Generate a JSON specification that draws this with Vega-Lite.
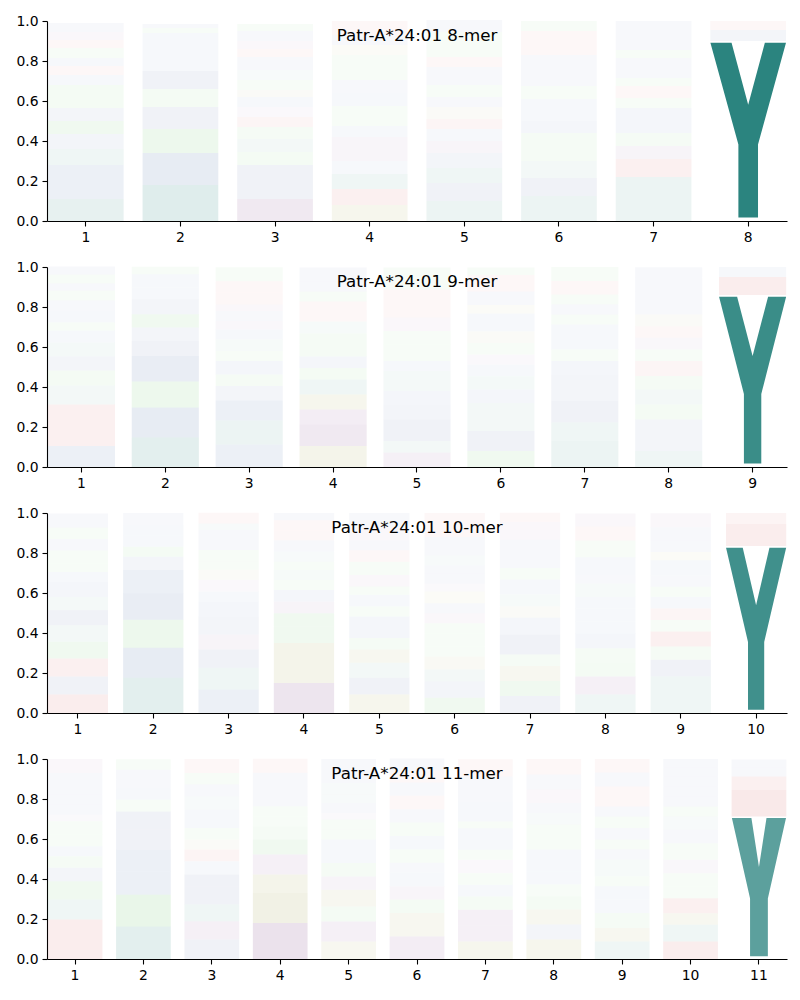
{
"$schema": "https://vega.github.io/schema/vega-lite/v6.json",
"background": "white",
"padding": {"left": 15, "top": 14, "right": 5, "bottom": 5},
"spacing": 46,
"bounds": "flush",
"config": {
  "view": {"stroke": null},
  "font": "DejaVu Sans",
  "axis": {"domainColor": "black", "domainWidth": 1.1, "tickColor": "black", "tickWidth": 1.1, "tickSize": 5, "labelColor": "black", "labelFontSize": 13.9, "labelFont": "DejaVu Sans", "grid": false, "title": null},
  "axisX": {"labelPadding": 4, "labelAngle": 0},
  "axisY": {"labelPadding": 4, "values": [0, 0.2, 0.4, 0.6, 0.8, 1.0], "format": ".1f"},
  "title": {"font": "DejaVu Sans", "fontSize": 16.7, "fontWeight": "normal", "color": "black", "anchor": "middle", "offset": -31}
},
"datasets": {
"m8": [
{"pos":1,"aa":"Y","p":0.11,"w":0.15},{"pos":1,"aa":"F","p":0.09,"w":0.12},{"pos":1,"aa":"M","p":0.08,"w":0.12},{"pos":1,"aa":"H","p":0.08,"w":0.1},{"pos":1,"aa":"I","p":0.075,"w":0.08},{"pos":1,"aa":"T","p":0.065,"w":0.1},{"pos":1,"aa":"V","p":0.065,"w":0.08},{"pos":1,"aa":"S","p":0.04,"w":0.08},{"pos":1,"aa":"Q","p":0.075,"w":0.08},{"pos":1,"aa":"A","p":0.05,"w":0.06},{"pos":1,"aa":"R","p":0.045,"w":0.06},{"pos":1,"aa":"L","p":0.04,"w":0.06},{"pos":1,"aa":"N","p":0.05,"w":0.06},{"pos":1,"aa":"K","p":0.04,"w":0.05},{"pos":1,"aa":"E","p":0.04,"w":0.05},{"pos":1,"aa":"W","p":0.045,"w":0.05},
{"pos":2,"aa":"Y","p":0.18,"w":0.2},{"pos":2,"aa":"F","p":0.16,"w":0.15},{"pos":2,"aa":"T","p":0.12,"w":0.12},{"pos":2,"aa":"W","p":0.11,"w":0.1},{"pos":2,"aa":"S","p":0.09,"w":0.08},{"pos":2,"aa":"M","p":0.09,"w":0.1},{"pos":2,"aa":"V","p":0.05,"w":0.06},{"pos":2,"aa":"I","p":0.05,"w":0.06},{"pos":2,"aa":"A","p":0.09,"w":0.06},{"pos":2,"aa":"Q","p":0.025,"w":0.05},{"pos":2,"aa":"L","p":0.02,"w":0.05},
{"pos":3,"aa":"D","p":0.11,"w":0.15},{"pos":3,"aa":"W","p":0.09,"w":0.1},{"pos":3,"aa":"F","p":0.08,"w":0.1},{"pos":3,"aa":"N","p":0.065,"w":0.08},{"pos":3,"aa":"Y","p":0.065,"w":0.08},{"pos":3,"aa":"Q","p":0.06,"w":0.07},{"pos":3,"aa":"R","p":0.05,"w":0.07},{"pos":3,"aa":"C","p":0.05,"w":0.06},{"pos":3,"aa":"A","p":0.05,"w":0.06},{"pos":3,"aa":"G","p":0.035,"w":0.06},{"pos":3,"aa":"S","p":0.05,"w":0.06},{"pos":3,"aa":"H","p":0.05,"w":0.05},{"pos":3,"aa":"L","p":0.065,"w":0.05},{"pos":3,"aa":"K","p":0.04,"w":0.05},{"pos":3,"aa":"E","p":0.04,"w":0.05},{"pos":3,"aa":"V","p":0.05,"w":0.05},{"pos":3,"aa":"T","p":0.035,"w":0.05},
{"pos":4,"aa":"P","p":0.08,"w":0.12},{"pos":4,"aa":"K","p":0.08,"w":0.1},{"pos":4,"aa":"H","p":0.075,"w":0.1},{"pos":4,"aa":"V","p":0.065,"w":0.06},{"pos":4,"aa":"E","p":0.06,"w":0.07},{"pos":4,"aa":"D","p":0.06,"w":0.07},{"pos":4,"aa":"I","p":0.055,"w":0.06},{"pos":4,"aa":"Q","p":0.06,"w":0.06},{"pos":4,"aa":"T","p":0.04,"w":0.05},{"pos":4,"aa":"W","p":0.065,"w":0.06},{"pos":4,"aa":"L","p":0.065,"w":0.05},{"pos":4,"aa":"S","p":0.06,"w":0.05},{"pos":4,"aa":"N","p":0.065,"w":0.05},{"pos":4,"aa":"G","p":0.05,"w":0.05},{"pos":4,"aa":"A","p":0.05,"w":0.05},{"pos":4,"aa":"R","p":0.07,"w":0.05},
{"pos":5,"aa":"H","p":0.1,"w":0.12},{"pos":5,"aa":"F","p":0.09,"w":0.1},{"pos":5,"aa":"Y","p":0.075,"w":0.1},{"pos":5,"aa":"W","p":0.075,"w":0.08},{"pos":5,"aa":"C","p":0.06,"w":0.08},{"pos":5,"aa":"V","p":0.06,"w":0.06},{"pos":5,"aa":"R","p":0.05,"w":0.07},{"pos":5,"aa":"G","p":0.06,"w":0.06},{"pos":5,"aa":"I","p":0.05,"w":0.05},{"pos":5,"aa":"T","p":0.06,"w":0.05},{"pos":5,"aa":"L","p":0.05,"w":0.05},{"pos":5,"aa":"A","p":0.04,"w":0.05},{"pos":5,"aa":"K","p":0.05,"w":0.05},{"pos":5,"aa":"S","p":0.065,"w":0.05},{"pos":5,"aa":"Q","p":0.06,"w":0.05},{"pos":5,"aa":"M","p":0.06,"w":0.05},
{"pos":6,"aa":"H","p":0.125,"w":0.12},{"pos":6,"aa":"F","p":0.09,"w":0.1},{"pos":6,"aa":"Y","p":0.085,"w":0.08},{"pos":6,"aa":"Q","p":0.065,"w":0.07},{"pos":6,"aa":"T","p":0.075,"w":0.07},{"pos":6,"aa":"I","p":0.06,"w":0.07},{"pos":6,"aa":"W","p":0.11,"w":0.06},{"pos":6,"aa":"N","p":0.065,"w":0.05},{"pos":6,"aa":"L","p":0.04,"w":0.05},{"pos":6,"aa":"A","p":0.065,"w":0.05},{"pos":6,"aa":"V","p":0.05,"w":0.05},{"pos":6,"aa":"R","p":0.06,"w":0.05},{"pos":6,"aa":"K","p":0.06,"w":0.05},{"pos":6,"aa":"S","p":0.05,"w":0.05},
{"pos":7,"aa":"Y","p":0.11,"w":0.12},{"pos":7,"aa":"H","p":0.11,"w":0.12},{"pos":7,"aa":"K","p":0.09,"w":0.1},{"pos":7,"aa":"E","p":0.065,"w":0.08},{"pos":7,"aa":"Q","p":0.065,"w":0.07},{"pos":7,"aa":"L","p":0.065,"w":0.07},{"pos":7,"aa":"F","p":0.06,"w":0.07},{"pos":7,"aa":"T","p":0.05,"w":0.06},{"pos":7,"aa":"R","p":0.06,"w":0.06},{"pos":7,"aa":"S","p":0.04,"w":0.05},{"pos":7,"aa":"A","p":0.05,"w":0.05},{"pos":7,"aa":"V","p":0.05,"w":0.05},{"pos":7,"aa":"N","p":0.04,"w":0.05},{"pos":7,"aa":"W","p":0.06,"w":0.05},{"pos":7,"aa":"M","p":0.085,"w":0.05},
{"pos":8,"aa":"Y","p":0.9,"w":1.0},{"pos":8,"aa":"F","p":0.055,"w":0.08},{"pos":8,"aa":"R","p":0.045,"w":0.06}
],
"m9": [
{"pos":1,"aa":"M","p":0.105,"w":0.12},{"pos":1,"aa":"R","p":0.11,"w":0.1},{"pos":1,"aa":"K","p":0.097,"w":0.1},{"pos":1,"aa":"Y","p":0.095,"w":0.08},{"pos":1,"aa":"S","p":0.075,"w":0.08},{"pos":1,"aa":"F","p":0.07,"w":0.08},{"pos":1,"aa":"H","p":0.07,"w":0.07},{"pos":1,"aa":"V","p":0.06,"w":0.06},{"pos":1,"aa":"T","p":0.04,"w":0.06},{"pos":1,"aa":"A","p":0.06,"w":0.06},{"pos":1,"aa":"I","p":0.05,"w":0.05},{"pos":1,"aa":"Q","p":0.05,"w":0.05},{"pos":1,"aa":"L","p":0.035,"w":0.05},{"pos":1,"aa":"N","p":0.045,"w":0.05},{"pos":1,"aa":"W","p":0.04,"w":0.05},
{"pos":2,"aa":"Y","p":0.147,"w":0.18},{"pos":2,"aa":"M","p":0.15,"w":0.15},{"pos":2,"aa":"T","p":0.13,"w":0.12},{"pos":2,"aa":"F","p":0.128,"w":0.14},{"pos":2,"aa":"W","p":0.075,"w":0.1},{"pos":2,"aa":"L","p":0.067,"w":0.08},{"pos":2,"aa":"S","p":0.067,"w":0.1},{"pos":2,"aa":"V","p":0.075,"w":0.08},{"pos":2,"aa":"I","p":0.058,"w":0.06},{"pos":2,"aa":"A","p":0.067,"w":0.06},{"pos":2,"aa":"Q","p":0.037,"w":0.05},
{"pos":3,"aa":"F","p":0.113,"w":0.12},{"pos":3,"aa":"Y","p":0.12,"w":0.12},{"pos":3,"aa":"M","p":0.1,"w":0.12},{"pos":3,"aa":"W","p":0.072,"w":0.08},{"pos":3,"aa":"N","p":0.058,"w":0.07},{"pos":3,"aa":"A","p":0.067,"w":0.07},{"pos":3,"aa":"S","p":0.05,"w":0.06},{"pos":3,"aa":"H","p":0.058,"w":0.06},{"pos":3,"aa":"I","p":0.05,"w":0.06},{"pos":3,"aa":"D","p":0.042,"w":0.06},{"pos":3,"aa":"L","p":0.05,"w":0.05},{"pos":3,"aa":"E","p":0.033,"w":0.05},{"pos":3,"aa":"R","p":0.058,"w":0.05},{"pos":3,"aa":"K","p":0.058,"w":0.05},{"pos":3,"aa":"Q","p":0.07,"w":0.05},
{"pos":4,"aa":"P","p":0.105,"w":0.14},{"pos":4,"aa":"D","p":0.107,"w":0.15},{"pos":4,"aa":"E","p":0.075,"w":0.12},{"pos":4,"aa":"G","p":0.075,"w":0.12},{"pos":4,"aa":"H","p":0.075,"w":0.1},{"pos":4,"aa":"S","p":0.058,"w":0.08},{"pos":4,"aa":"A","p":0.058,"w":0.07},{"pos":4,"aa":"Q","p":0.058,"w":0.07},{"pos":4,"aa":"N","p":0.058,"w":0.07},{"pos":4,"aa":"Y","p":0.058,"w":0.06},{"pos":4,"aa":"R","p":0.058,"w":0.06},{"pos":4,"aa":"K","p":0.042,"w":0.05},{"pos":4,"aa":"T","p":0.05,"w":0.05},{"pos":4,"aa":"L","p":0.05,"w":0.05},{"pos":4,"aa":"W","p":0.07,"w":0.05},
{"pos":5,"aa":"C","p":0.072,"w":0.12},{"pos":5,"aa":"H","p":0.058,"w":0.08},{"pos":5,"aa":"W","p":0.108,"w":0.1},{"pos":5,"aa":"F","p":0.075,"w":0.08},{"pos":5,"aa":"L","p":0.067,"w":0.07},{"pos":5,"aa":"Y","p":0.1,"w":0.07},{"pos":5,"aa":"V","p":0.05,"w":0.06},{"pos":5,"aa":"N","p":0.083,"w":0.06},{"pos":5,"aa":"S","p":0.067,"w":0.06},{"pos":5,"aa":"E","p":0.067,"w":0.05},{"pos":5,"aa":"R","p":0.083,"w":0.05},{"pos":5,"aa":"K","p":0.058,"w":0.05},{"pos":5,"aa":"T","p":0.11,"w":0.05},
{"pos":6,"aa":"T","p":0.08,"w":0.1},{"pos":6,"aa":"F","p":0.1,"w":0.1},{"pos":6,"aa":"Y","p":0.14,"w":0.08},{"pos":6,"aa":"I","p":0.067,"w":0.07},{"pos":6,"aa":"H","p":0.067,"w":0.07},{"pos":6,"aa":"L","p":0.058,"w":0.06},{"pos":6,"aa":"C","p":0.05,"w":0.06},{"pos":6,"aa":"N","p":0.058,"w":0.06},{"pos":6,"aa":"P","p":0.058,"w":0.06},{"pos":6,"aa":"M","p":0.09,"w":0.06},{"pos":6,"aa":"G","p":0.042,"w":0.05},{"pos":6,"aa":"A","p":0.067,"w":0.05},{"pos":6,"aa":"R","p":0.083,"w":0.05},{"pos":6,"aa":"Q","p":0.037,"w":0.05},
{"pos":7,"aa":"H","p":0.13,"w":0.12},{"pos":7,"aa":"Y","p":0.092,"w":0.1},{"pos":7,"aa":"F","p":0.108,"w":0.1},{"pos":7,"aa":"L","p":0.058,"w":0.08},{"pos":7,"aa":"M","p":0.075,"w":0.08},{"pos":7,"aa":"I","p":0.067,"w":0.07},{"pos":7,"aa":"T","p":0.058,"w":0.06},{"pos":7,"aa":"W","p":0.067,"w":0.06},{"pos":7,"aa":"A","p":0.058,"w":0.06},{"pos":7,"aa":"S","p":0.05,"w":0.05},{"pos":7,"aa":"V","p":0.05,"w":0.05},{"pos":7,"aa":"Q","p":0.05,"w":0.05},{"pos":7,"aa":"R","p":0.067,"w":0.05},{"pos":7,"aa":"N","p":0.07,"w":0.05},
{"pos":8,"aa":"Y","p":0.08,"w":0.1},{"pos":8,"aa":"L","p":0.083,"w":0.08},{"pos":8,"aa":"F","p":0.075,"w":0.08},{"pos":8,"aa":"T","p":0.075,"w":0.08},{"pos":8,"aa":"H","p":0.075,"w":0.08},{"pos":8,"aa":"Q","p":0.067,"w":0.07},{"pos":8,"aa":"K","p":0.075,"w":0.07},{"pos":8,"aa":"S","p":0.058,"w":0.06},{"pos":8,"aa":"E","p":0.058,"w":0.06},{"pos":8,"aa":"R","p":0.058,"w":0.06},{"pos":8,"aa":"G","p":0.058,"w":0.06},{"pos":8,"aa":"A","p":0.067,"w":0.05},{"pos":8,"aa":"I","p":0.05,"w":0.05},{"pos":8,"aa":"W","p":0.067,"w":0.05},{"pos":8,"aa":"M","p":0.053,"w":0.05},
{"pos":9,"aa":"Y","p":0.86,"w":0.93},{"pos":9,"aa":"K","p":0.09,"w":0.12},{"pos":9,"aa":"F","p":0.05,"w":0.06}
],
"m10": [
{"pos":1,"aa":"K","p":0.093,"w":0.12},{"pos":1,"aa":"F","p":0.09,"w":0.1},{"pos":1,"aa":"R","p":0.09,"w":0.1},{"pos":1,"aa":"S","p":0.083,"w":0.1},{"pos":1,"aa":"H","p":0.083,"w":0.08},{"pos":1,"aa":"M","p":0.075,"w":0.1},{"pos":1,"aa":"Y","p":0.066,"w":0.07},{"pos":1,"aa":"A","p":0.075,"w":0.07},{"pos":1,"aa":"I","p":0.05,"w":0.06},{"pos":1,"aa":"T","p":0.041,"w":0.06},{"pos":1,"aa":"Q","p":0.066,"w":0.06},{"pos":1,"aa":"V","p":0.058,"w":0.05},{"pos":1,"aa":"N","p":0.058,"w":0.05},{"pos":1,"aa":"L","p":0.033,"w":0.05},{"pos":1,"aa":"W","p":0.036,"w":0.05},
{"pos":2,"aa":"Y","p":0.176,"w":0.18},{"pos":2,"aa":"M","p":0.15,"w":0.15},{"pos":2,"aa":"T","p":0.14,"w":0.12},{"pos":2,"aa":"F","p":0.133,"w":0.14},{"pos":2,"aa":"W","p":0.116,"w":0.12},{"pos":2,"aa":"V","p":0.066,"w":0.08},{"pos":2,"aa":"S","p":0.05,"w":0.08},{"pos":2,"aa":"L","p":0.058,"w":0.06},{"pos":2,"aa":"I","p":0.05,"w":0.06},{"pos":2,"aa":"A","p":0.061,"w":0.05},
{"pos":3,"aa":"F","p":0.118,"w":0.12},{"pos":3,"aa":"Y","p":0.108,"w":0.1},{"pos":3,"aa":"M","p":0.091,"w":0.1},{"pos":3,"aa":"D","p":0.075,"w":0.08},{"pos":3,"aa":"W","p":0.091,"w":0.08},{"pos":3,"aa":"A","p":0.075,"w":0.07},{"pos":3,"aa":"I","p":0.05,"w":0.06},{"pos":3,"aa":"C","p":0.058,"w":0.06},{"pos":3,"aa":"P","p":0.05,"w":0.06},{"pos":3,"aa":"S","p":0.041,"w":0.05},{"pos":3,"aa":"N","p":0.058,"w":0.05},{"pos":3,"aa":"V","p":0.05,"w":0.05},{"pos":3,"aa":"L","p":0.05,"w":0.05},{"pos":3,"aa":"H","p":0.033,"w":0.05},{"pos":3,"aa":"R","p":0.053,"w":0.05},
{"pos":4,"aa":"D","p":0.15,"w":0.18},{"pos":4,"aa":"P","p":0.1,"w":0.14},{"pos":4,"aa":"G","p":0.1,"w":0.14},{"pos":4,"aa":"N","p":0.083,"w":0.1},{"pos":4,"aa":"S","p":0.066,"w":0.1},{"pos":4,"aa":"E","p":0.058,"w":0.08},{"pos":4,"aa":"A","p":0.058,"w":0.07},{"pos":4,"aa":"T","p":0.05,"w":0.06},{"pos":4,"aa":"H","p":0.05,"w":0.06},{"pos":4,"aa":"Q","p":0.041,"w":0.05},{"pos":4,"aa":"Y","p":0.05,"w":0.05},{"pos":4,"aa":"L","p":0.058,"w":0.05},{"pos":4,"aa":"R","p":0.05,"w":0.05},{"pos":4,"aa":"K","p":0.05,"w":0.05},{"pos":4,"aa":"V","p":0.036,"w":0.05},
{"pos":5,"aa":"G","p":0.093,"w":0.12},{"pos":5,"aa":"F","p":0.083,"w":0.1},{"pos":5,"aa":"H","p":0.075,"w":0.08},{"pos":5,"aa":"P","p":0.066,"w":0.1},{"pos":5,"aa":"S","p":0.058,"w":0.07},{"pos":5,"aa":"A","p":0.108,"w":0.07},{"pos":5,"aa":"N","p":0.05,"w":0.06},{"pos":5,"aa":"W","p":0.058,"w":0.06},{"pos":5,"aa":"T","p":0.041,"w":0.05},{"pos":5,"aa":"D","p":0.058,"w":0.05},{"pos":5,"aa":"Q","p":0.066,"w":0.05},{"pos":5,"aa":"R","p":0.058,"w":0.05},{"pos":5,"aa":"L","p":0.05,"w":0.05},{"pos":5,"aa":"E","p":0.066,"w":0.05},{"pos":5,"aa":"I","p":0.07,"w":0.05},
{"pos":6,"aa":"T","p":0.076,"w":0.1},{"pos":6,"aa":"I","p":0.083,"w":0.08},{"pos":6,"aa":"Y","p":0.058,"w":0.08},{"pos":6,"aa":"G","p":0.066,"w":0.08},{"pos":6,"aa":"S","p":0.05,"w":0.06},{"pos":6,"aa":"N","p":0.066,"w":0.06},{"pos":6,"aa":"Q","p":0.05,"w":0.06},{"pos":6,"aa":"E","p":0.05,"w":0.05},{"pos":6,"aa":"F","p":0.05,"w":0.05},{"pos":6,"aa":"P","p":0.058,"w":0.05},{"pos":6,"aa":"C","p":0.041,"w":0.05},{"pos":6,"aa":"A","p":0.05,"w":0.05},{"pos":6,"aa":"L","p":0.041,"w":0.05},{"pos":6,"aa":"H","p":0.05,"w":0.05},{"pos":6,"aa":"W","p":0.041,"w":0.05},{"pos":6,"aa":"V","p":0.05,"w":0.05},{"pos":6,"aa":"R","p":0.12,"w":0.05},
{"pos":7,"aa":"F","p":0.085,"w":0.1},{"pos":7,"aa":"N","p":0.075,"w":0.1},{"pos":7,"aa":"G","p":0.075,"w":0.1},{"pos":7,"aa":"T","p":0.058,"w":0.07},{"pos":7,"aa":"M","p":0.1,"w":0.1},{"pos":7,"aa":"L","p":0.083,"w":0.07},{"pos":7,"aa":"P","p":0.058,"w":0.06},{"pos":7,"aa":"H","p":0.058,"w":0.06},{"pos":7,"aa":"V","p":0.075,"w":0.06},{"pos":7,"aa":"S","p":0.058,"w":0.05},{"pos":7,"aa":"A","p":0.075,"w":0.05},{"pos":7,"aa":"W","p":0.066,"w":0.05},{"pos":7,"aa":"E","p":0.09,"w":0.05},{"pos":7,"aa":"K","p":0.045,"w":0.05},
{"pos":8,"aa":"H","p":0.093,"w":0.1},{"pos":8,"aa":"C","p":0.09,"w":0.12},{"pos":8,"aa":"S","p":0.066,"w":0.08},{"pos":8,"aa":"T","p":0.075,"w":0.07},{"pos":8,"aa":"W","p":0.075,"w":0.07},{"pos":8,"aa":"A","p":0.058,"w":0.06},{"pos":8,"aa":"L","p":0.066,"w":0.06},{"pos":8,"aa":"F","p":0.058,"w":0.06},{"pos":8,"aa":"Y","p":0.066,"w":0.06},{"pos":8,"aa":"I","p":0.041,"w":0.05},{"pos":8,"aa":"M","p":0.091,"w":0.06},{"pos":8,"aa":"Q","p":0.083,"w":0.05},{"pos":8,"aa":"R","p":0.07,"w":0.05},{"pos":8,"aa":"E","p":0.066,"w":0.05},
{"pos":9,"aa":"Y","p":0.1,"w":0.1},{"pos":9,"aa":"H","p":0.083,"w":0.1},{"pos":9,"aa":"F","p":0.083,"w":0.1},{"pos":9,"aa":"Q","p":0.066,"w":0.07},{"pos":9,"aa":"K","p":0.075,"w":0.1},{"pos":9,"aa":"T","p":0.058,"w":0.06},{"pos":9,"aa":"R","p":0.058,"w":0.07},{"pos":9,"aa":"L","p":0.058,"w":0.06},{"pos":9,"aa":"N","p":0.05,"w":0.05},{"pos":9,"aa":"M","p":0.058,"w":0.05},{"pos":9,"aa":"W","p":0.075,"w":0.06},{"pos":9,"aa":"G","p":0.041,"w":0.05},{"pos":9,"aa":"A","p":0.058,"w":0.05},{"pos":9,"aa":"V","p":0.066,"w":0.05},{"pos":9,"aa":"E","p":0.07,"w":0.05},
{"pos":10,"aa":"Y","p":0.835,"w":0.9},{"pos":10,"aa":"K","p":0.11,"w":0.12},{"pos":10,"aa":"R","p":0.055,"w":0.08}
],
"m11": [
{"pos":1,"aa":"R","p":0.1,"w":0.12},{"pos":1,"aa":"K","p":0.097,"w":0.12},{"pos":1,"aa":"H","p":0.1,"w":0.1},{"pos":1,"aa":"S","p":0.092,"w":0.1},{"pos":1,"aa":"A","p":0.067,"w":0.08},{"pos":1,"aa":"T","p":0.058,"w":0.07},{"pos":1,"aa":"F","p":0.05,"w":0.06},{"pos":1,"aa":"N","p":0.058,"w":0.06},{"pos":1,"aa":"Q","p":0.067,"w":0.06},{"pos":1,"aa":"C","p":0.033,"w":0.05},{"pos":1,"aa":"M","p":0.05,"w":0.05},{"pos":1,"aa":"V","p":0.05,"w":0.05},{"pos":1,"aa":"L","p":0.058,"w":0.05},{"pos":1,"aa":"W","p":0.05,"w":0.05},{"pos":1,"aa":"E","p":0.07,"w":0.05},
{"pos":2,"aa":"Y","p":0.163,"w":0.18},{"pos":2,"aa":"T","p":0.158,"w":0.15},{"pos":2,"aa":"W","p":0.117,"w":0.12},{"pos":2,"aa":"F","p":0.108,"w":0.12},{"pos":2,"aa":"V","p":0.1,"w":0.1},{"pos":2,"aa":"M","p":0.092,"w":0.1},{"pos":2,"aa":"S","p":0.058,"w":0.06},{"pos":2,"aa":"A","p":0.058,"w":0.06},{"pos":2,"aa":"L","p":0.042,"w":0.05},{"pos":2,"aa":"I","p":0.05,"w":0.05},{"pos":2,"aa":"Q","p":0.053,"w":0.05},
{"pos":3,"aa":"F","p":0.097,"w":0.1},{"pos":3,"aa":"D","p":0.092,"w":0.1},{"pos":3,"aa":"Y","p":0.083,"w":0.1},{"pos":3,"aa":"W","p":0.092,"w":0.1},{"pos":3,"aa":"M","p":0.058,"w":0.1},{"pos":3,"aa":"I","p":0.067,"w":0.06},{"pos":3,"aa":"K","p":0.058,"w":0.08},{"pos":3,"aa":"G","p":0.05,"w":0.06},{"pos":3,"aa":"Q","p":0.058,"w":0.06},{"pos":3,"aa":"A","p":0.092,"w":0.06},{"pos":3,"aa":"H","p":0.067,"w":0.05},{"pos":3,"aa":"L","p":0.058,"w":0.05},{"pos":3,"aa":"N","p":0.058,"w":0.05},{"pos":3,"aa":"R","p":0.07,"w":0.05},
{"pos":4,"aa":"D","p":0.18,"w":0.2},{"pos":4,"aa":"P","p":0.15,"w":0.18},{"pos":4,"aa":"G","p":0.092,"w":0.14},{"pos":4,"aa":"E","p":0.1,"w":0.1},{"pos":4,"aa":"S","p":0.075,"w":0.1},{"pos":4,"aa":"N","p":0.067,"w":0.07},{"pos":4,"aa":"T","p":0.05,"w":0.06},{"pos":4,"aa":"Q","p":0.05,"w":0.06},{"pos":4,"aa":"A","p":0.05,"w":0.05},{"pos":4,"aa":"V","p":0.05,"w":0.05},{"pos":4,"aa":"W","p":0.067,"w":0.05},{"pos":4,"aa":"R","p":0.07,"w":0.05},
{"pos":5,"aa":"G","p":0.088,"w":0.1},{"pos":5,"aa":"D","p":0.1,"w":0.1},{"pos":5,"aa":"N","p":0.075,"w":0.08},{"pos":5,"aa":"P","p":0.083,"w":0.1},{"pos":5,"aa":"E","p":0.067,"w":0.08},{"pos":5,"aa":"S","p":0.067,"w":0.07},{"pos":5,"aa":"F","p":0.05,"w":0.06},{"pos":5,"aa":"A","p":0.067,"w":0.06},{"pos":5,"aa":"Q","p":0.05,"w":0.05},{"pos":5,"aa":"T","p":0.05,"w":0.05},{"pos":5,"aa":"C","p":0.033,"w":0.05},{"pos":5,"aa":"V","p":0.05,"w":0.05},{"pos":5,"aa":"H","p":0.042,"w":0.05},{"pos":5,"aa":"Y","p":0.058,"w":0.05},{"pos":5,"aa":"L","p":0.06,"w":0.05},{"pos":5,"aa":"M","p":0.06,"w":0.05},
{"pos":6,"aa":"D","p":0.113,"w":0.12},{"pos":6,"aa":"G","p":0.117,"w":0.1},{"pos":6,"aa":"S","p":0.067,"w":0.08},{"pos":6,"aa":"E","p":0.067,"w":0.07},{"pos":6,"aa":"F","p":0.067,"w":0.06},{"pos":6,"aa":"L","p":0.05,"w":0.05},{"pos":6,"aa":"N","p":0.067,"w":0.06},{"pos":6,"aa":"A","p":0.067,"w":0.06},{"pos":6,"aa":"Q","p":0.067,"w":0.06},{"pos":6,"aa":"V","p":0.067,"w":0.05},{"pos":6,"aa":"K","p":0.067,"w":0.05},{"pos":6,"aa":"W","p":0.067,"w":0.05},{"pos":6,"aa":"R","p":0.06,"w":0.05},{"pos":6,"aa":"M","p":0.06,"w":0.05},
{"pos":7,"aa":"G","p":0.088,"w":0.12},{"pos":7,"aa":"E","p":0.078,"w":0.1},{"pos":7,"aa":"D","p":0.08,"w":0.1},{"pos":7,"aa":"S","p":0.067,"w":0.07},{"pos":7,"aa":"V","p":0.058,"w":0.06},{"pos":7,"aa":"Q","p":0.058,"w":0.06},{"pos":7,"aa":"C","p":0.067,"w":0.06},{"pos":7,"aa":"N","p":0.05,"w":0.05},{"pos":7,"aa":"A","p":0.108,"w":0.06},{"pos":7,"aa":"T","p":0.033,"w":0.05},{"pos":7,"aa":"W","p":0.1,"w":0.06},{"pos":7,"aa":"F","p":0.042,"w":0.05},{"pos":7,"aa":"L","p":0.083,"w":0.05},{"pos":7,"aa":"R","p":0.087,"w":0.05},
{"pos":8,"aa":"G","p":0.097,"w":0.12},{"pos":8,"aa":"V","p":0.075,"w":0.08},{"pos":8,"aa":"P","p":0.075,"w":0.1},{"pos":8,"aa":"S","p":0.067,"w":0.08},{"pos":8,"aa":"T","p":0.058,"w":0.06},{"pos":8,"aa":"L","p":0.067,"w":0.06},{"pos":8,"aa":"F","p":0.108,"w":0.06},{"pos":8,"aa":"N","p":0.058,"w":0.05},{"pos":8,"aa":"Q","p":0.067,"w":0.05},{"pos":8,"aa":"H","p":0.058,"w":0.05},{"pos":8,"aa":"A","p":0.05,"w":0.05},{"pos":8,"aa":"E","p":0.067,"w":0.05},{"pos":8,"aa":"M","p":0.075,"w":0.05},{"pos":8,"aa":"K","p":0.078,"w":0.05},
{"pos":9,"aa":"H","p":0.088,"w":0.1},{"pos":9,"aa":"G","p":0.067,"w":0.1},{"pos":9,"aa":"N","p":0.075,"w":0.07},{"pos":9,"aa":"L","p":0.067,"w":0.06},{"pos":9,"aa":"M","p":0.067,"w":0.06},{"pos":9,"aa":"T","p":0.05,"w":0.05},{"pos":9,"aa":"Y","p":0.083,"w":0.06},{"pos":9,"aa":"A","p":0.05,"w":0.05},{"pos":9,"aa":"Q","p":0.05,"w":0.05},{"pos":9,"aa":"F","p":0.058,"w":0.05},{"pos":9,"aa":"S","p":0.058,"w":0.05},{"pos":9,"aa":"I","p":0.05,"w":0.05},{"pos":9,"aa":"R","p":0.1,"w":0.05},{"pos":9,"aa":"W","p":0.07,"w":0.05},{"pos":9,"aa":"K","p":0.067,"w":0.05},
{"pos":10,"aa":"K","p":0.088,"w":0.12},{"pos":10,"aa":"Y","p":0.083,"w":0.1},{"pos":10,"aa":"G","p":0.058,"w":0.1},{"pos":10,"aa":"R","p":0.075,"w":0.1},{"pos":10,"aa":"Q","p":0.058,"w":0.06},{"pos":10,"aa":"N","p":0.067,"w":0.06},{"pos":10,"aa":"E","p":0.067,"w":0.06},{"pos":10,"aa":"S","p":0.083,"w":0.06},{"pos":10,"aa":"A","p":0.067,"w":0.05},{"pos":10,"aa":"H","p":0.067,"w":0.05},{"pos":10,"aa":"T","p":0.05,"w":0.05},{"pos":10,"aa":"L","p":0.05,"w":0.05},{"pos":10,"aa":"F","p":0.05,"w":0.05},{"pos":10,"aa":"M","p":0.05,"w":0.05},{"pos":10,"aa":"V","p":0.045,"w":0.05},{"pos":10,"aa":"W","p":0.042,"w":0.05},
{"pos":11,"aa":"Y","p":0.712,"w":0.77},{"pos":11,"aa":"K","p":0.133,"w":0.15},{"pos":11,"aa":"R","p":0.067,"w":0.1},{"pos":11,"aa":"W","p":0.045,"w":0.05},{"pos":11,"aa":"F","p":0.04,"w":0.05}
]
},
"vconcat": [
{
 "width": 740, "height": 200,
 "title": "Patr-A*24:01 8-mer",
 "data": {"name": "m8"},
 "transform": [{"stack": "p", "groupby": ["pos"], "as": ["y0", "y1"]}],
 "encoding": {
  "x": {"field": "pos", "type": "ordinal", "scale": {"paddingInner": 0.2, "paddingOuter": 0.01}},
  "y": {"field": "y0", "type": "quantitative", "stack": null, "scale": {"domain": [0, 1], "nice": false}},
  "color": {"field": "aa", "type": "nominal", "legend": null, "scale": {"domain": ["A","V","L","I","M","F","W","S","T","N","Q","D","E","K","R","G","P","C","H","Y"], "range": ["#2f5597","#2f5597","#2f5597","#2f5597","#2f5597","#2f5597","#2f5597","#3cb43c","#3cb43c","#3cb43c","#3cb43c","#783c82","#783c82","#c83c3c","#c83c3c","#96963c","#96963c","#8c5aa0","#2b847f","#2b847f"]}}
 },
 "layer": [
  {"transform": [{"filter": "datum.p < 0.5"}], "mark": {"type": "bar"}, "encoding": {"y2": {"field": "y1"}, "opacity": {"field": "w", "type": "quantitative", "legend": null, "scale": {"domain": [0, 1], "range": [0, 0.75]}}}},
  {"transform": [{"filter": "datum.p >= 0.5"}], "mark": {"type": "point", "filled": true, "strokeWidth": 0, "shape": "M-0.42,-1.98L-0.185,-1.98L0,-1.291L0.185,-1.98L0.42,-1.98L0.109,-0.849L0.109,-0.04L-0.109,-0.04L-0.109,-0.849Z"}, "encoding": {"size": {"field": "p", "type": "quantitative", "legend": null, "scale": {"type": "pow", "exponent": 2, "domain": [0, 1], "range": [0, 40000]}}, "opacity": {"field": "w", "type": "quantitative", "legend": null, "scale": {"domain": [0, 1], "range": [0, 1]}}}}
 ],
 "resolve": {"scale": {"opacity": "independent"}}
},
{
 "width": 740, "height": 200,
 "title": "Patr-A*24:01 9-mer",
 "data": {"name": "m9"},
 "transform": [{"stack": "p", "groupby": ["pos"], "as": ["y0", "y1"]}],
 "encoding": {
  "x": {"field": "pos", "type": "ordinal", "scale": {"paddingInner": 0.2, "paddingOuter": 0.01}},
  "y": {"field": "y0", "type": "quantitative", "stack": null, "scale": {"domain": [0, 1], "nice": false}},
  "color": {"field": "aa", "type": "nominal", "legend": null, "scale": {"domain": ["A","V","L","I","M","F","W","S","T","N","Q","D","E","K","R","G","P","C","H","Y"], "range": ["#2f5597","#2f5597","#2f5597","#2f5597","#2f5597","#2f5597","#2f5597","#3cb43c","#3cb43c","#3cb43c","#3cb43c","#783c82","#783c82","#c83c3c","#c83c3c","#96963c","#96963c","#8c5aa0","#2b847f","#2b847f"]}}
 },
 "layer": [
  {"transform": [{"filter": "datum.p < 0.5"}], "mark": {"type": "bar"}, "encoding": {"y2": {"field": "y1"}, "opacity": {"field": "w", "type": "quantitative", "legend": null, "scale": {"domain": [0, 1], "range": [0, 0.75]}}}},
  {"transform": [{"filter": "datum.p >= 0.5"}], "mark": {"type": "point", "filled": true, "strokeWidth": 0, "shape": "M-0.39,-1.98L-0.18,-1.98L0,-1.291L0.18,-1.98L0.39,-1.98L0.101,-0.849L0.101,-0.04L-0.101,-0.04L-0.101,-0.849Z"}, "encoding": {"size": {"field": "p", "type": "quantitative", "legend": null, "scale": {"type": "pow", "exponent": 2, "domain": [0, 1], "range": [0, 40000]}}, "opacity": {"field": "w", "type": "quantitative", "legend": null, "scale": {"domain": [0, 1], "range": [0, 1]}}}}
 ],
 "resolve": {"scale": {"opacity": "independent"}}
},
{
 "width": 740, "height": 200,
 "title": "Patr-A*24:01 10-mer",
 "data": {"name": "m10"},
 "transform": [{"stack": "p", "groupby": ["pos"], "as": ["y0", "y1"]}],
 "encoding": {
  "x": {"field": "pos", "type": "ordinal", "scale": {"paddingInner": 0.2, "paddingOuter": 0.01}},
  "y": {"field": "y0", "type": "quantitative", "stack": null, "scale": {"domain": [0, 1], "nice": false}},
  "color": {"field": "aa", "type": "nominal", "legend": null, "scale": {"domain": ["A","V","L","I","M","F","W","S","T","N","Q","D","E","K","R","G","P","C","H","Y"], "range": ["#2f5597","#2f5597","#2f5597","#2f5597","#2f5597","#2f5597","#2f5597","#3cb43c","#3cb43c","#3cb43c","#3cb43c","#783c82","#783c82","#c83c3c","#c83c3c","#96963c","#96963c","#8c5aa0","#2b847f","#2b847f"]}}
 },
 "layer": [
  {"transform": [{"filter": "datum.p < 0.5"}], "mark": {"type": "bar"}, "encoding": {"y2": {"field": "y1"}, "opacity": {"field": "w", "type": "quantitative", "legend": null, "scale": {"domain": [0, 1], "range": [0, 0.75]}}}},
  {"transform": [{"filter": "datum.p >= 0.5"}], "mark": {"type": "point", "filled": true, "strokeWidth": 0, "shape": "M-0.36,-1.98L-0.16,-1.98L0,-1.291L0.16,-1.98L0.36,-1.98L0.097,-0.849L0.097,-0.04L-0.097,-0.04L-0.097,-0.849Z"}, "encoding": {"size": {"field": "p", "type": "quantitative", "legend": null, "scale": {"type": "pow", "exponent": 2, "domain": [0, 1], "range": [0, 40000]}}, "opacity": {"field": "w", "type": "quantitative", "legend": null, "scale": {"domain": [0, 1], "range": [0, 1]}}}}
 ],
 "resolve": {"scale": {"opacity": "independent"}}
},
{
 "width": 740, "height": 200,
 "title": "Patr-A*24:01 11-mer",
 "data": {"name": "m11"},
 "transform": [{"stack": "p", "groupby": ["pos"], "as": ["y0", "y1"]}],
 "encoding": {
  "x": {"field": "pos", "type": "ordinal", "scale": {"paddingInner": 0.2, "paddingOuter": 0.01}},
  "y": {"field": "y0", "type": "quantitative", "stack": null, "scale": {"domain": [0, 1], "nice": false}},
  "color": {"field": "aa", "type": "nominal", "legend": null, "scale": {"domain": ["A","V","L","I","M","F","W","S","T","N","Q","D","E","K","R","G","P","C","H","Y"], "range": ["#2f5597","#2f5597","#2f5597","#2f5597","#2f5597","#2f5597","#2f5597","#3cb43c","#3cb43c","#3cb43c","#3cb43c","#783c82","#783c82","#c83c3c","#c83c3c","#96963c","#96963c","#8c5aa0","#2b847f","#2b847f"]}}
 },
 "layer": [
  {"transform": [{"filter": "datum.p < 0.5"}], "mark": {"type": "bar"}, "encoding": {"y2": {"field": "y1"}, "opacity": {"field": "w", "type": "quantitative", "legend": null, "scale": {"domain": [0, 1], "range": [0, 0.75]}}}},
  {"transform": [{"filter": "datum.p >= 0.5"}], "mark": {"type": "point", "filled": true, "strokeWidth": 0, "shape": "M-0.38,-1.98L-0.106,-1.98L0,-1.291L0.106,-1.98L0.38,-1.98L0.125,-0.849L0.125,-0.04L-0.125,-0.04L-0.125,-0.849Z"}, "encoding": {"size": {"field": "p", "type": "quantitative", "legend": null, "scale": {"type": "pow", "exponent": 2, "domain": [0, 1], "range": [0, 40000]}}, "opacity": {"field": "w", "type": "quantitative", "legend": null, "scale": {"domain": [0, 1], "range": [0, 1]}}}}
 ],
 "resolve": {"scale": {"opacity": "independent"}}
}
]
}
